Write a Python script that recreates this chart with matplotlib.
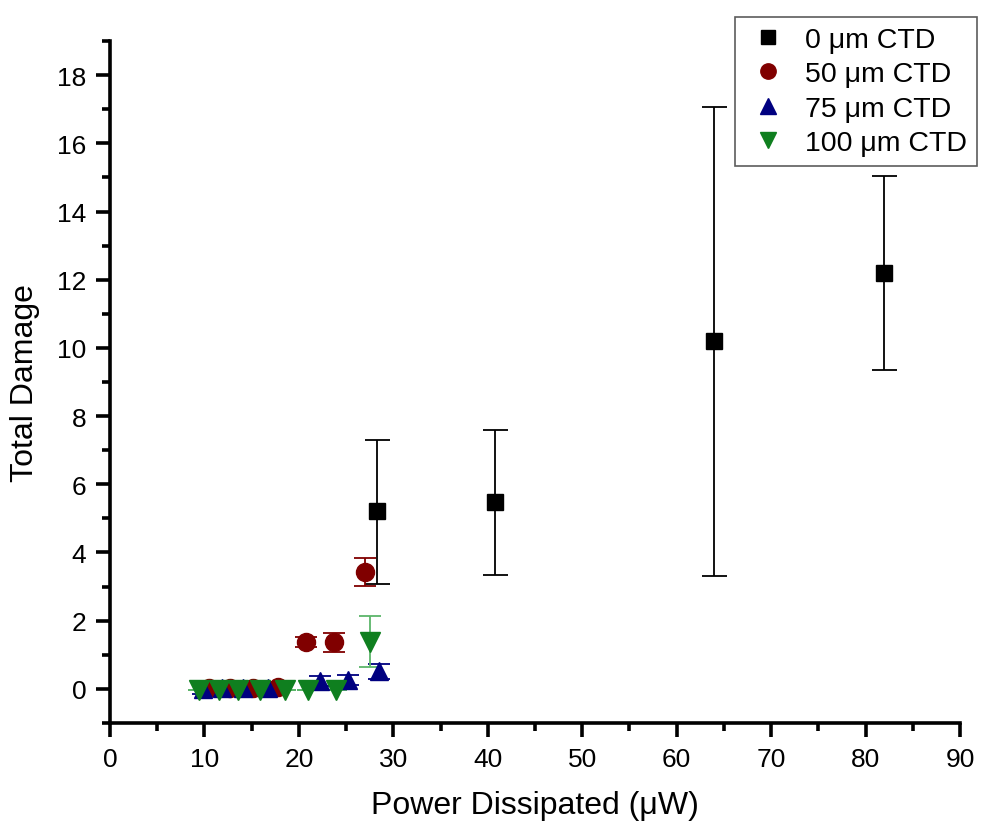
import numpy as np
import matplotlib
matplotlib.use('Agg')
import matplotlib.pyplot as plt

plt.rcParams['font.family'] = ['Liberation Sans', 'DejaVu Sans']

# 0 um CTD
p0 = [28.3, 40.8, 63.9, 82.0]
d0 = [5.22, 5.48, 10.2, 12.2]
lo0 = [3.08, 3.34, 3.31, 9.35]
hi0 = [7.30, 7.60, 17.07, 15.04]

# 50 um CTD
p50 = [10.5, 12.7, 15.1, 17.8, 20.75, 23.75, 27.0]
d50 = [0.03, 0.04, 0.04, 0.06, 1.37, 1.37, 3.42]
e50 = [0.06, 0.08, 0.08, 0.08, 0.14, 0.28, 0.41]

# 75 um CTD
p75 = [9.8, 11.9, 14.1, 16.7, 22.2, 25.2, 28.5]
d75 = [0.0, 0.02, 0.02, 0.02, 0.22, 0.26, 0.52]
e75 = [0.15, 0.18, 0.2, 0.18, 0.15, 0.15, 0.22]

# 100 um CTD
p100 = [9.4, 11.5, 13.6, 15.9, 18.5, 21.0, 23.9, 27.5]
d100 = [-0.04, -0.04, -0.04, -0.04, -0.04, -0.04, -0.04, 1.38]
e100 = [0.0, 0.0, 0.0, 0.0, 0.0, 0.0, 0.0, 0.75]

fig = plt.figure(figsize=(9.93, 8.29), dpi=100)
ax = fig.add_axes([0.1108, 0.1267, 0.856, 0.8226])

yerr0 = [np.array(d0) - np.array(lo0), np.array(hi0) - np.array(d0)]
h0 = ax.errorbar(p0, d0, yerr=yerr0, fmt='s', color='black', ms=11.5,
                 capsize=9, elinewidth=1.3, capthick=1.3, label='0 μm CTD')
h50 = ax.errorbar(p50, d50, yerr=e50, fmt='o', color='#800000', ms=13,
                  capsize=8, elinewidth=1.3, capthick=1.3, label='50 μm CTD')
h75 = ax.errorbar(p75, d75, yerr=e75, fmt='^', color='#000080', ms=13,
                  capsize=8, elinewidth=1.3, capthick=1.3, label='75 μm CTD')
h100 = ax.errorbar(p100, d100, yerr=e100, fmt='v', color='#0f7f1f', ms=14,
                   capsize=8, elinewidth=1.3, capthick=1.3, label='100 μm CTD',
                   ecolor='#5cb56a')

ax.set_xlim(0, 90)
ax.set_ylim(-1, 19)
ax.set_xticks(np.arange(0, 91, 10))
ax.set_xticks(np.arange(5, 90, 10), minor=True)
ax.set_yticks(np.arange(0, 19, 2))
ax.set_yticks(np.arange(-1, 19.1, 2), minor=True)

for s in ['top', 'right']:
    ax.spines[s].set_visible(False)
for s in ['left', 'bottom']:
    ax.spines[s].set_linewidth(2.6)
ax.tick_params(which='major', direction='out', length=10, width=2.6, labelsize=19, pad=7)
ax.tick_params(which='minor', direction='out', length=6, width=2.6)

ax.set_xlabel('Power Dissipated (μW)', fontsize=23, labelpad=14)
ax.set_ylabel('Total Damage', fontsize=23, labelpad=12)

handles = [h0[0], h50[0], h75[0], h100[0]]
labels = ['0 μm CTD', '50 μm CTD', '75 μm CTD', '100 μm CTD']
leg = fig.legend(handles, labels, loc='upper right', bbox_to_anchor=(0.998, 0.996),
                 fontsize=20.5, frameon=True, fancybox=False, edgecolor='#333333',
                 handletextpad=0.5, labelspacing=0.3, borderpad=0.35,
                 handlelength=1.6, markerscale=0.85)
leg.get_frame().set_linewidth(1.2)

fig.savefig('out.png', dpi=100)
